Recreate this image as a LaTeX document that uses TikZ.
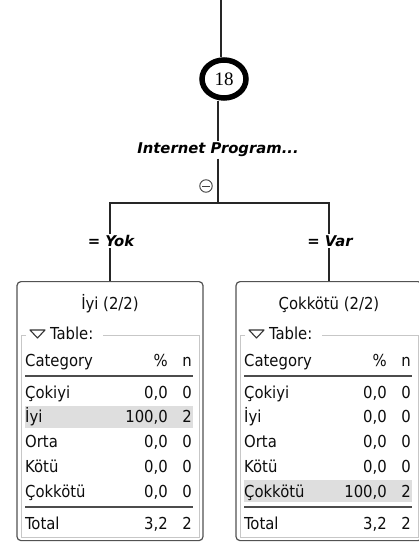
\documentclass[tikz,border=0pt]{standalone}
\usepackage{fontspec}
\setmainfont{DejaVu Sans Condensed}
\newfontfamily\numfont{Liberation Serif}
\newfontfamily\splitfont{DejaVu Sans}
\usetikzlibrary{shapes.geometric}

\tikzset{
  conn/.style={draw=black!85, line width=1.1pt},
  edgelabel/.style={fill=white, inner sep=1.5pt, text=black,
    font=\splitfont\bfseries\itshape\fontsize{14.8}{17}\selectfont},
  leafbox/.style={draw=black!68, line width=1.2pt, rounded corners=4pt,
    minimum width=186pt, minimum height=259pt, inner sep=0pt, anchor=north},
  cell/.style={inner sep=0pt, text height=12pt, text depth=0pt, text=black!95,
    font=\fontsize{16.5}{19}\selectfont},
  seprule/.style={draw=black!70, line width=1.2pt},
  groupframe/.style={draw=black!22, line width=0.8pt},
  rowmark/.style={fill=black!13},
}

% one row of a leaf table: prefix, box left x, row centre y, category, percent, count
\newcommand\leafrow[6]{%
  \node[cell, anchor=west] (#1-c) at ({#2+8},#3) {#4};
  \node[cell, anchor=east] (#1-p) at ({#2+151},#3) {#5};
  \node[cell, anchor=east] (#1-n) at ({#2+175},#3) {#6};
}

% frame, legend and header of a leaf table: prefix, box left x, title
\newcommand\leafhead[3]{%
  \node[cell] (#1-title) at ({#2+93},303) {#3};
  \draw[groupframe] ({#2+9},335) -- ({#2+4},335) -- ({#2+4},537)
    -- ({#2+182},537) -- ({#2+182},335) -- ({#2+86},335);
  \draw[draw=black!80, line width=1.1pt, line join=round]
    ({#2+13},330) -- ({#2+28},330) -- ({#2+20.5},338) -- cycle;
  \node[cell, anchor=west] (#1-legend) at ({#2+33},333) {Table:};
  \leafrow{#1-h}{#2}{360}{Category}{\%}{n}
  \draw[seprule] ({#2+8},376) -- ({#2+176},376);
  \draw[seprule] ({#2+8},507) -- ({#2+176},507);
  \leafrow{#1-t}{#2}{523}{Total}{3,2}{2}
}

\begin{document}
\begin{tikzpicture}[x=1pt, y=-1pt]
\useasboundingbox (0,0) rectangle (418,545);

% split node and its incoming edge
\coordinate (top) at (221,0);
\node[draw=black, line width=5.5pt, ellipse, minimum width=44pt, minimum height=38pt,
      inner sep=0pt, font=\numfont\fontsize{19}{21}\selectfont] (root) at (224,79) {18};
\node[edgelabel] (split) at (218,150) {Internet Program...};
\node[circle, draw=black!75, line width=0.9pt, minimum size=12.5pt, inner sep=0pt]
      (collapse) at (206,186) {};
\draw[black!75, line width=0.9pt] ([xshift=3pt]collapse.west) -- ([xshift=-3pt]collapse.east);
\coordinate (fork) at (218,203);

\draw[conn] (top) -- (top |- root.north);
\draw[conn] (split |- root.south) -- (split.north);
\draw[conn] (split.south) -- (fork);

% leaf boxes
\node[leafbox] (boxL) at (110,281) {};
\node[leafbox] (boxR) at (329,281) {};

% branch labels and edges down to the leaves
\node[edgelabel] (lyok) at (111,241) {= Yok};
\node[edgelabel] (lvar) at (330,241) {= Var};
\draw[conn] (boxL.north |- lyok.north) |- (fork) -| (boxR.north |- lvar.north);
\draw[conn] (boxL.north |- lyok.south) -- (boxL.north);
\draw[conn] (boxR.north |- lvar.south) -- (boxR.north);

% left leaf
\fill[rowmark] (25,405.75) rectangle (193,427.75);
\leafhead{L}{17}{İyi (2/2)}
\leafrow{L1}{17}{392}{Çokiyi}{0,0}{0}
\leafrow{L2}{17}{416.75}{İyi}{100,0}{2}
\leafrow{L3}{17}{441.5}{Orta}{0,0}{0}
\leafrow{L4}{17}{466.25}{Kötü}{0,0}{0}
\leafrow{L5}{17}{491}{Çokkötü}{0,0}{0}

% right leaf
\fill[rowmark] (244,480) rectangle (412,502);
\leafhead{R}{236}{Çokkötü (2/2)}
\leafrow{R1}{236}{392}{Çokiyi}{0,0}{0}
\leafrow{R2}{236}{416.75}{İyi}{0,0}{0}
\leafrow{R3}{236}{441.5}{Orta}{0,0}{0}
\leafrow{R4}{236}{466.25}{Kötü}{0,0}{0}
\leafrow{R5}{236}{491}{Çokkötü}{100,0}{2}
\end{tikzpicture}
\end{document}
